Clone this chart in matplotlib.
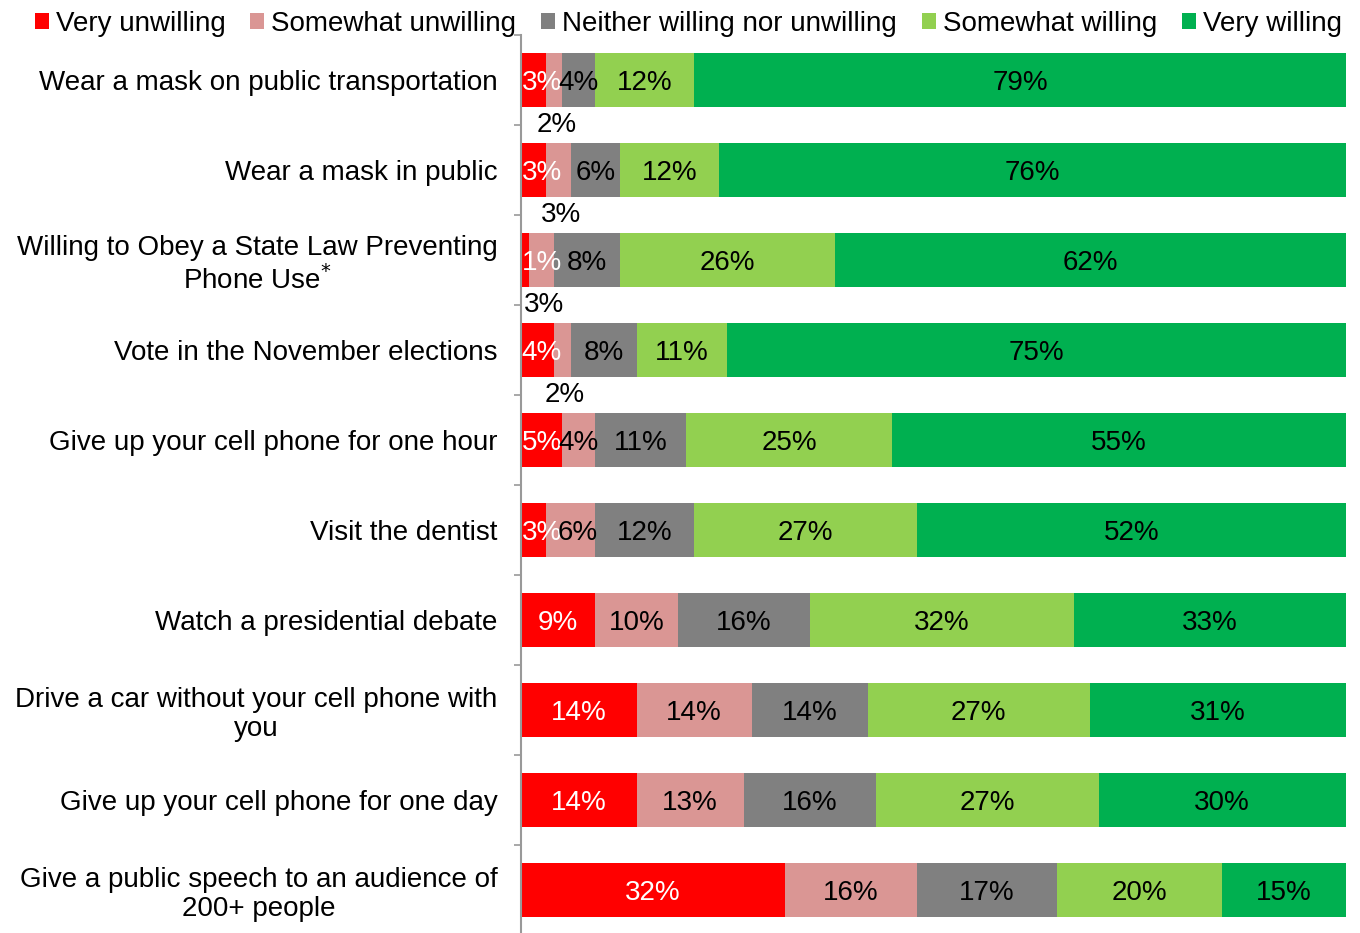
import numpy as np
import matplotlib
matplotlib.use("Agg")
import matplotlib.pyplot as plt

plt.rcParams['font.family'] = ['Liberation Sans', 'DejaVu Sans']

categories = [
	"Wear a mask on public transportation",
	"Wear a mask in public",
	"Willing to Obey a State Law Preventing\nPhone Use$^{*}$",
	"Vote in the November elections",
	"Give up your cell phone for one hour",
	"Visit the dentist",
	"Watch a presidential debate",
	"Drive a car without your cell phone with\nyou",
	"Give up your cell phone for one day",
	"Give a public speech to an audience of\n200+ people",
]
series = ["Very unwilling", "Somewhat unwilling", "Neither willing nor unwilling",
	"Somewhat willing", "Very willing"]
very_unwilling = [3, 3, 1, 4, 5, 3, 9, 14, 14, 32]
somewhat_unwilling = [2, 3, 3, 2, 4, 6, 10, 14, 13, 16]
neither = [4, 6, 8, 8, 11, 12, 16, 14, 16, 17]
somewhat_willing = [12, 12, 26, 11, 25, 27, 32, 27, 27, 20]
very_willing = [79, 76, 62, 75, 55, 52, 33, 31, 30, 15]
# rows where the "somewhat unwilling" label sits under the bar
label_below = [0, 1, 2, 3]

colors = ["#ff0000", "#da9694", "#808080", "#92d050", "#00b050"]
text_colors = ["white", "black", "black", "black", "black"]
FS = 20

data = np.array([very_unwilling, somewhat_unwilling, neither, somewhat_willing, very_willing])
y = np.arange(len(categories))

fig = plt.figure(figsize=(13.6, 9.33), dpi=100)
ax = fig.add_axes([521 / 1360, -2 / 933, 825 / 1360, 900 / 933])

left = np.zeros(len(categories))
for k in range(len(series)):
	vals = data[k]
	ax.barh(y, vals, left=left, height=0.61, color=colors[k], label=series[k])
	for i, v in enumerate(vals):
		cx = left[i] + v / 2
		if k == 1 and i in label_below:
			ax.text(cx + 0.3, y[i] + 0.47, f"{v}%", ha='center', va='center_baseline',
				fontsize=FS, color='black')
		elif k == 0 and v < 5:
			# narrow first segment: keep the label inside the plot
			ax.text(0.1, y[i], f"{v}%", ha='left', va='center_baseline',
				fontsize=FS, color=text_colors[k])
		elif k == 1 and very_unwilling[i] < 5:
			# nudge so it doesn't run into the red label
			ax.text(cx + 0.9, y[i], f"{v}%", ha='center', va='center_baseline',
				fontsize=FS, color=text_colors[k])
		else:
			ax.text(cx, y[i], f"{v}%", ha='center', va='center_baseline',
				fontsize=FS, color=text_colors[k])
	left += vals

ax.set_xlim(0, 100)
ax.set_ylim(len(categories) - 0.5, -0.5)
ax.set_yticks(y)
ax.set_yticklabels(categories, fontsize=FS, multialignment='center', linespacing=1.15)
ax.set_yticks(np.arange(-0.5, len(categories), 1), minor=True)
ax.tick_params(axis='y', which='major', length=0, pad=17)
ax.tick_params(axis='y', which='minor', length=5, width=1.2, color='#999999')
ax.set_xticks([])
for s in ['top', 'right', 'bottom']:
	ax.spines[s].set_visible(False)
ax.spines['left'].set_color('#999999')
ax.spines['left'].set_linewidth(1.5)

fig.legend(loc='center', bbox_to_anchor=(0.506, 0.974), ncol=5, frameon=False,
	fontsize=FS, handlelength=0.5, handleheight=0.5, handletextpad=0.25,
	columnspacing=0.9, borderaxespad=0)

fig.savefig("out.png", dpi=100)
